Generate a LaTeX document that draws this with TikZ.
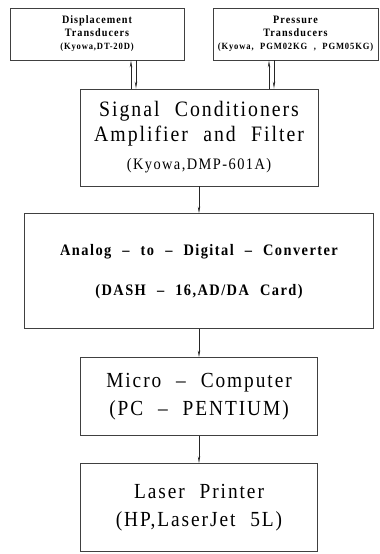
\documentclass[tikz,border=0pt]{standalone}
\usepackage{fontspec}
\setmainfont{Liberation Serif}
\newfontfamily\widefont[FakeStretch=0.9, LetterSpace=9, WordSpace=2.2]{Liberation Serif}
\usetikzlibrary{arrows.meta,positioning}

\begin{document}
\begin{tikzpicture}[x=1pt, y=-1pt, >={Stealth[length=7pt,width=2.4pt]}]
        % Style definitions
        \tikzset{
            block/.style={draw=black!75, rectangle, line width=0.9pt, align=center, inner sep=0pt, minimum width=237pt},
            link/.style={->, line width=0.8pt, draw=black!85}
        }
        \useasboundingbox (0,0) rectangle (380,554);

        % Transducers
        \node [block, minimum width=174pt, minimum height=52pt, font=\widefont\bfseries\fontsize{11.3}{13}\selectfont] (disp) at (97,34) {Displacement\\Transducers\\{\fontsize{9.5}{10}\selectfont (Kyowa,DT-20D)}};
        \node [block, minimum width=165pt, minimum height=52pt, font=\widefont\bfseries\fontsize{11.3}{13}\selectfont] (press) at (295.5,34) {Pressure\\Transducers\\{\fontsize{9.5}{10}\selectfont (Kyowa, PGM02KG , PGM05KG)}};

        % Signal conditioning chain
        \node [block, minimum width=238pt, minimum height=97pt, font=\widefont\fontsize{22}{25}\selectfont] (sig) at (199,137.5) {Signal Conditioners\\Amplifier and Filter\\[3pt]{\fontsize{16}{18}\selectfont (Kyowa,DMP-601A)}};
        \node [block, minimum width=349pt, minimum height=115pt, font=\widefont\bfseries\fontsize{16}{18}\selectfont, below=27pt of sig] (adc) {Analog – to – Digital – Converter\\[22pt](DASH – 16,AD/DA Card)};
        \node [block, minimum height=78pt, font=\widefont\fontsize{21.5}{28}\selectfont, below=28pt of adc] (micro) {Micro – Computer\\(PC – PENTIUM)};
        \node [block, minimum height=88pt, font=\widefont\fontsize{21.5}{28}\selectfont, below=27pt of micro] (laser) {Laser Printer\\(HP,LaserJet 5L)};

        % Connections
        \draw [link, <-] ([xshift=34pt]disp.south) -- ([xshift=34pt]disp.south |- sig.north);
        \draw [link] ([xshift=39pt]disp.south) -- ([xshift=39pt]disp.south |- sig.north);
        \draw [link, <-] ([xshift=-26.5pt]press.south) -- ([xshift=-26.5pt]press.south |- sig.north);
        \draw [link] ([xshift=-21.5pt]press.south) -- ([xshift=-21.5pt]press.south |- sig.north);
        \draw [link] (sig.south) -- (sig.south |- adc.north);
        \draw [link] (micro.north |- adc.south) -- (micro.north);
        \draw [link] (micro) -- (laser);
\end{tikzpicture}
\end{document}
